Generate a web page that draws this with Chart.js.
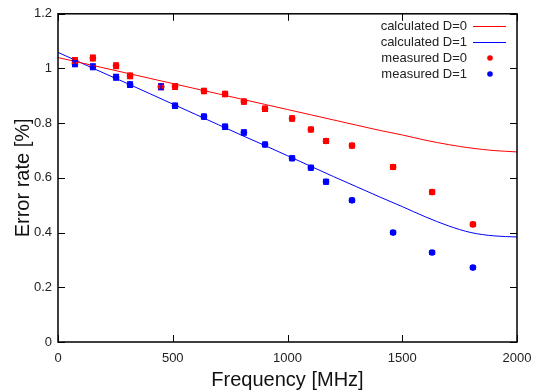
<!DOCTYPE html>
<html>
<head>
<meta charset="utf-8">
<script src="https://cdn.jsdelivr.net/npm/chart.js@4"></script>
<style>
  html, body { margin: 0; padding: 0; background: #fff; }
  #wrap { width: 544px; height: 392px; }
</style>
</head>
<body>
<div id="wrap"><canvas id="chart" width="544" height="392"></canvas></div>
<script>
// calculated curves
const calcFreq = [0, 100, 200, 300, 400, 500, 600, 700, 800, 900, 1000, 1100, 1200, 1300, 1400, 1500, 1600, 1700, 1800, 1900, 2000];
const calcD0 = [1.040, 1.021, 1.002, 0.983, 0.964, 0.945, 0.926, 0.907, 0.888, 0.869, 0.850, 0.831, 0.812, 0.793, 0.774, 0.757, 0.738, 0.722, 0.709, 0.700, 0.695];
const calcD1 = [1.059, 1.021, 0.983, 0.946, 0.908, 0.870, 0.832, 0.794, 0.756, 0.719, 0.681, 0.643, 0.605, 0.568, 0.531, 0.495, 0.458, 0.425, 0.400, 0.388, 0.384];

// measurements
const measFreq = [74, 152, 253, 314, 449, 510, 636, 728, 810, 902, 1020, 1102, 1168, 1281, 1460, 1630, 1808];
const measD0 = [1.029, 1.038, 1.010, 0.973, 0.933, 0.934, 0.918, 0.907, 0.879, 0.853, 0.817, 0.777, 0.735, 0.718, 0.640, 0.548, 0.430];
const measD1 = [1.017, 1.006, 0.968, 0.941, 0.933, 0.864, 0.824, 0.787, 0.766, 0.722, 0.672, 0.637, 0.586, 0.518, 0.400, 0.327, 0.272];
const errD0 = [0.010, 0.010, 0.010, 0.010, 0.010, 0.010, 0.009, 0.009, 0.009, 0.009, 0.009, 0.008, 0.008, 0.008, 0.008, 0.008, 0.007];
const errD1 = [0.010, 0.010, 0.010, 0.010, 0.010, 0.009, 0.009, 0.009, 0.009, 0.008, 0.008, 0.008, 0.008, 0.007, 0.006, 0.006, 0.005];

const yTicks = [0, 0.2, 0.4, 0.6, 0.8, 1, 1.2];
const xTicks = [0, 500, 1000, 1500, 2000];

const RED = '#ff0000';
const BLUE = '#0000ff';
const FONT = "'Liberation Sans', Arial, sans-serif";

const pts = (xs, ys) => xs.map((x, i) => ({ x: x, y: ys[i] }));

// error bars with caps, drawn through the scales
const errorBars = {
  id: 'errorBars',
  afterDatasetsDraw(chart) {
    const ctx = chart.ctx;
    const ys = chart.scales.y;
    chart.data.datasets.forEach((ds, i) => {
      if (!ds.err) return;
      const meta = chart.getDatasetMeta(i);
      ctx.save();
      ctx.strokeStyle = ds.pointBackgroundColor;
      ctx.lineWidth = 1.5;
      meta.data.forEach((el, j) => {
        const v = ds.data[j].y;
        const top = ys.getPixelForValue(v + ds.err[j]);
        const bot = ys.getPixelForValue(v - ds.err[j]);
        ctx.beginPath();
        ctx.moveTo(el.x, top); ctx.lineTo(el.x, bot);
        ctx.moveTo(el.x - 3, top); ctx.lineTo(el.x + 3, top);
        ctx.moveTo(el.x - 3, bot); ctx.lineTo(el.x + 3, bot);
        ctx.stroke();
      });
      ctx.restore();
    });
  }
};

// gnuplot-style frame with inward, mirrored ticks + legend at top right
const frame = {
  id: 'frame',
  afterDraw(chart) {
    const ctx = chart.ctx;
    const a = chart.chartArea;
    const xs = chart.scales.x, ys = chart.scales.y;
    const tl = 7;
    ctx.save();
    ctx.strokeStyle = '#000';
    ctx.lineWidth = 1;
    ctx.beginPath();
    xTicks.forEach(v => {
      const px = Math.round(xs.getPixelForValue(v)) + 0.5;
      ctx.moveTo(px, a.bottom); ctx.lineTo(px, a.bottom - tl);
      ctx.moveTo(px, a.top); ctx.lineTo(px, a.top + tl);
    });
    yTicks.forEach(v => {
      const py = Math.round(ys.getPixelForValue(v)) + 0.5;
      ctx.moveTo(a.left, py); ctx.lineTo(a.left + tl, py);
      ctx.moveTo(a.right, py); ctx.lineTo(a.right - tl, py);
    });
    ctx.stroke();
    ctx.lineWidth = 1.5;
    ctx.strokeRect(a.left, a.top, a.right - a.left, a.bottom - a.top);

    // legend
    ctx.font = '13px ' + FONT;
    ctx.textAlign = 'right';
    ctx.textBaseline = 'middle';
    const textRight = 467;
    const rows = [26, 42, 58, 74];
    chart.data.datasets.forEach((ds, i) => {
      const y = rows[i];
      ctx.fillStyle = '#222';
      ctx.fillText(ds.label, textRight, y);
      if (ds.showLine) {
        ctx.strokeStyle = ds.borderColor;
        ctx.lineWidth = 1;
        ctx.beginPath();
        ctx.moveTo(473, y + 0.5); ctx.lineTo(506, y + 0.5);
        ctx.stroke();
      } else {
        ctx.fillStyle = ds.pointBackgroundColor;
        ctx.beginPath();
        ctx.arc(490, y, 2.8, 0, Math.PI * 2);
        ctx.fill();
      }
    });
    ctx.restore();
  }
};

new Chart(document.getElementById('chart'), {
  type: 'scatter',
  data: {
    datasets: [
      {
        label: 'calculated D=0',
        data: pts(calcFreq, calcD0),
        showLine: true,
        borderColor: RED,
        borderWidth: 1,
        pointRadius: 0,
        cubicInterpolationMode: 'monotone'
      },
      {
        label: 'calculated D=1',
        data: pts(calcFreq, calcD1),
        showLine: true,
        borderColor: BLUE,
        borderWidth: 1,
        pointRadius: 0,
        cubicInterpolationMode: 'monotone'
      },
      {
        label: 'measured D=0',
        data: pts(measFreq, measD0),
        err: errD0,
        showLine: false,
        pointRadius: 3.3,
        pointBorderWidth: 0,
        pointBackgroundColor: RED,
        pointBorderColor: RED
      },
      {
        label: 'measured D=1',
        data: pts(measFreq, measD1),
        err: errD1,
        showLine: false,
        pointRadius: 3.3,
        pointBorderWidth: 0,
        pointBackgroundColor: BLUE,
        pointBorderColor: BLUE
      }
    ]
  },
  options: {
    responsive: false,
    animation: false,
    layout: { padding: { top: 13, right: 27, left: 11, bottom: 0 } },
    plugins: {
      legend: { display: false },
      tooltip: { enabled: false }
    },
    scales: {
      x: {
        type: 'linear',
        min: 0,
        max: 2000,
        afterBuildTicks: s => { s.ticks = xTicks.map(v => ({ value: v })); },
        afterFit: s => { s.height = 50; },
        grid: { display: false, drawTicks: false },
        border: { display: false },
        ticks: {
          color: '#222',
          font: { family: FONT, size: 13 },
          padding: 9,
          maxRotation: 0,
          callback: v => String(v)
        },
        title: {
          display: true,
          text: 'Frequency [MHz]',
          color: '#111',
          font: { family: FONT, size: 20 },
          padding: { top: 0, bottom: 0 }
        }
      },
      y: {
        type: 'linear',
        min: 0,
        max: 1.2,
        afterBuildTicks: s => { s.ticks = yTicks.map(v => ({ value: v })); },
        afterFit: s => { s.width = 47; },
        grid: { display: false, drawTicks: false },
        border: { display: false },
        ticks: {
          color: '#222',
          font: { family: FONT, size: 13 },
          padding: 6,
          callback: v => String(Math.round(v * 10) / 10)
        },
        title: {
          display: true,
          text: 'Error rate [%]',
          color: '#111',
          font: { family: FONT, size: 20 },
          padding: { top: 0, bottom: 0 }
        }
      }
    }
  },
  plugins: [errorBars, frame]
});
</script>
</body>
</html>
